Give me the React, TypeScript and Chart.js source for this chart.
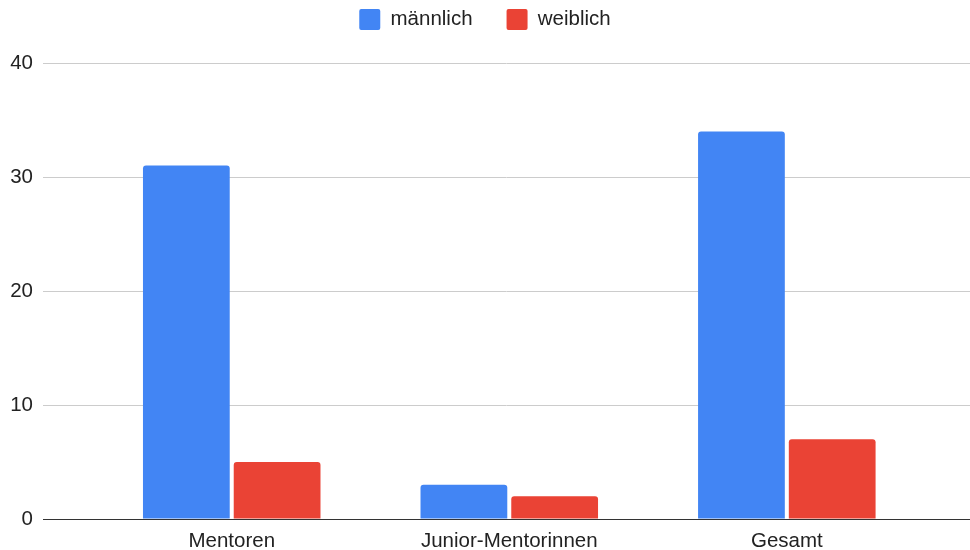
import React, { useEffect, useRef } from "react";
import { Chart, registerables } from "chart.js";

Chart.register(...registerables);

const categories = ["Mentoren", "Junior-Mentorinnen", "Gesamt"];
const maleValues = [31, 3, 34];
const femaleValues = [5, 2, 7];
const seriesNames = ["männlich", "weiblich"];
const yTicks = [0, 10, 20, 30, 40];

const FONT = "'Liberation Sans', Arial, sans-serif";
const LEGEND_PAD = 34;

const legendShift = {
  id: "legendShift",
  afterLayout(chart: any) {
    const lg = chart.legend;
    if (!lg) return;
    lg.top = 9 - LEGEND_PAD;
    lg.height = LEGEND_PAD + 40;
    lg.bottom = lg.top + lg.height;
  },
};

export default function App() {
  const ref = useRef<HTMLCanvasElement | null>(null);

  useEffect(() => {
    if (!ref.current) return;
    const toPoints = (vals: number[]) => vals.map((v, i) => ({ x: i, y: v }));
    const chart = new Chart(ref.current, {
      type: "bar",
      data: {
        datasets: [
          {
            label: seriesNames[0],
            data: toPoints(maleValues),
            backgroundColor: "#4285F4",
            borderRadius: 3,
            borderSkipped: "start",
          },
          {
            label: seriesNames[1],
            data: toPoints(femaleValues),
            backgroundColor: "#EA4335",
            borderRadius: 3,
            borderSkipped: "start",
          },
        ],
      },
      plugins: [legendShift],
      options: {
        animation: false,
        responsive: false,
        maintainAspectRatio: false,
        categoryPercentage: 0.654,
        barPercentage: 0.956,
        layout: { padding: 0 },
        plugins: {
          tooltip: { enabled: false },
          legend: {
            position: "top",
            align: "center",
            maxHeight: 40,
            labels: {
              boxWidth: 21,
              boxHeight: 21,
              padding: LEGEND_PAD,
              useBorderRadius: true,
              borderRadius: 2,
              color: "#222",
              font: { family: FONT, size: 20.5 },
            },
          },
        },
        scales: {
          x: {
            type: "linear",
            offset: false,
            min: -0.68,
            max: 2.66,
            grid: { display: false, drawTicks: false },
            border: { display: true, color: "#333", width: 1 },
            afterBuildTicks: (scale: any) => {
              scale.ticks = categories.map((_, i) => ({ value: i }));
            },
            afterFit: (scale: any) => {
              scale.height = 31;
            },
            ticks: {
              autoSkip: false,
              maxRotation: 0,
              padding: 10,
              color: "#222",
              font: { family: FONT, size: 20.5 },
              callback: (v: any) => categories[Number(v)] ?? "",
            },
          },
          y: {
            min: yTicks[0],
            max: yTicks[yTicks.length - 1],
            afterBuildTicks: (scale: any) => {
              scale.ticks = yTicks.map((v) => ({ value: v }));
            },
            afterFit: (scale: any) => {
              scale.width = 43;
              scale.paddingTop = 63;
            },
            border: { display: false },
            grid: {
              drawTicks: false,
              color: (ctx: any) => (ctx.tick && ctx.tick.value === 0 ? "#333" : "#cccccc"),
              lineWidth: 1,
            },
            ticks: {
              padding: 10,
              color: "#222",
              font: { family: FONT, size: 20.5 },
            },
          },
        },
      },
    });
    return () => chart.destroy();
  }, []);

  return (
    <div style={{ position: "absolute", left: 0, top: 0, width: 970, height: 550, background: "#fff" }}>
      <canvas ref={ref} width={970} height={550} />
    </div>
  );
}
